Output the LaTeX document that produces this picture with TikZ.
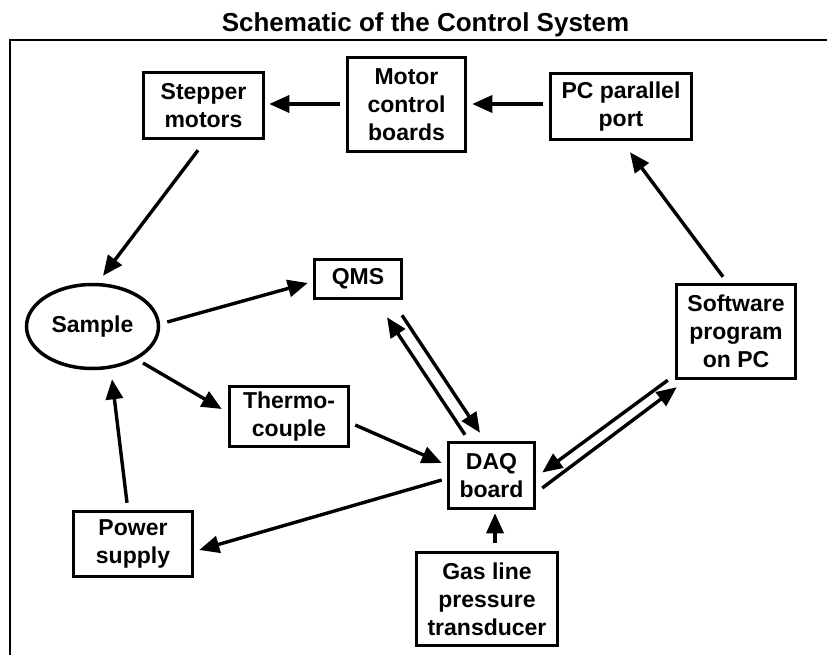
\documentclass[tikz,border=0pt]{standalone}
\usepackage{fontspec}
\setmainfont{Liberation Sans}
\usetikzlibrary{arrows.meta,shapes.geometric}
\newcommand\diagfont{\fontsize{23}{28}\selectfont\bfseries}
\newcommand\diagtitlefont{\fontsize{26}{30}\selectfont\bfseries}
\begin{document}
\begin{tikzpicture}[x=1pt,y=-1pt,
  box/.style={draw, line width=3.5pt, inner sep=0pt, align=center, font=\diagfont},
  arr/.style={line width=3.4pt, -{Triangle[length=20pt,width=17pt]}},
  frameline/.style={line width=2.8pt}
]
\useasboundingbox (0,0) rectangle (827,655);

% title and frame
\node[font=\diagtitlefont, anchor=base] (title) at (425.5,32) {Schematic of the Control System};
\coordinate (fbl) at (10,655);
\coordinate (ftl) at (10,40);
\coordinate (ftr) at (827,40);
\draw[frameline] (fbl) -- (ftl) -- (ftr);

% nodes
\node[box, minimum width=120, minimum height=66] (stepper) at (203.5,105.5) {Stepper\\motors};
\node[box, minimum width=118, minimum height=94] (motor) at (406.5,104.5) {Motor\\control\\boards};
\node[box, minimum width=141, minimum height=66] (pc) at (621,106.5) {PC parallel\\port};
\node[box, ellipse, minimum width=132, minimum height=84] (sample) at (92.5,326.5) {Sample};
\node[box, minimum width=87, minimum height=39] (qms) at (358,279) {QMS};
\node[box, minimum width=119, minimum height=60] (thermo) at (289,416.5) {Thermo-\\couple};
\node[box, minimum width=119, minimum height=94] (soft) at (736,331.5) {Software\\program\\on PC};
\node[box, minimum width=86, minimum height=66] (daq) at (491.5,475.5) {DAQ\\board};
\node[box, minimum width=119, minimum height=65] (power) at (133,544) {Power\\supply};
\node[box, minimum width=141, minimum height=93] (gas) at (487,599) {Gas line\\pressure\\transducer};

% connectors
\draw[arr] ([shift={(-6,-0.5)}]motor.west) -- ([shift={(4,-1.5)}]stepper.east);
\draw[arr] ([shift={(-6,-2.5)}]pc.west) -- ([shift={(5,-0.5)}]motor.east);
\draw[arr] ([shift={(-5.5,10)}]stepper.south) -- ([shift={(10.5,-7)}]sample.north);
\draw[arr] ([shift={(-13,-6)}]soft.north) -- ([shift={(9,11)}]pc.south);
\draw[arr] ([shift={(7,-4.5)}]sample.east) -- ([shift={(-5,4)}]qms.west);
\draw[arr] ([shift={(50.5,36.5)}]sample.center) -- ([shift={(-6,-7.5)}]thermo.west);
\draw[arr] ([shift={(-6,-7)}]power.north) -- ([shift={(19.5,9)}]sample.south);
\draw[arr] ([shift={(5,8.5)}]thermo.east) -- ([shift={(-5,-12.5)}]daq.west);
\draw[arr] ([shift={(-5,4.5)}]daq.west) -- ([shift={(5,6)}]power.east);
\draw[arr] ([shift={(-26.5,-6)}]daq.north) -- ([shift={(29,17)}]qms.south);
\draw[arr] ([shift={(44,15)}]qms.south) -- ([shift={(-11.5,-8)}]daq.north);
\draw[arr] ([shift={(-7,0)}]soft.south west) -- ([shift={(6,-3)}]daq.east);
\draw[arr] ([shift={(6,12.5)}]daq.east) -- ([shift={(2,7)}]soft.south west);
\draw[arr] ([shift={(8,-8)}]gas.north) -- ([shift={(3.5,3)}]daq.south);
\end{tikzpicture}
\end{document}
